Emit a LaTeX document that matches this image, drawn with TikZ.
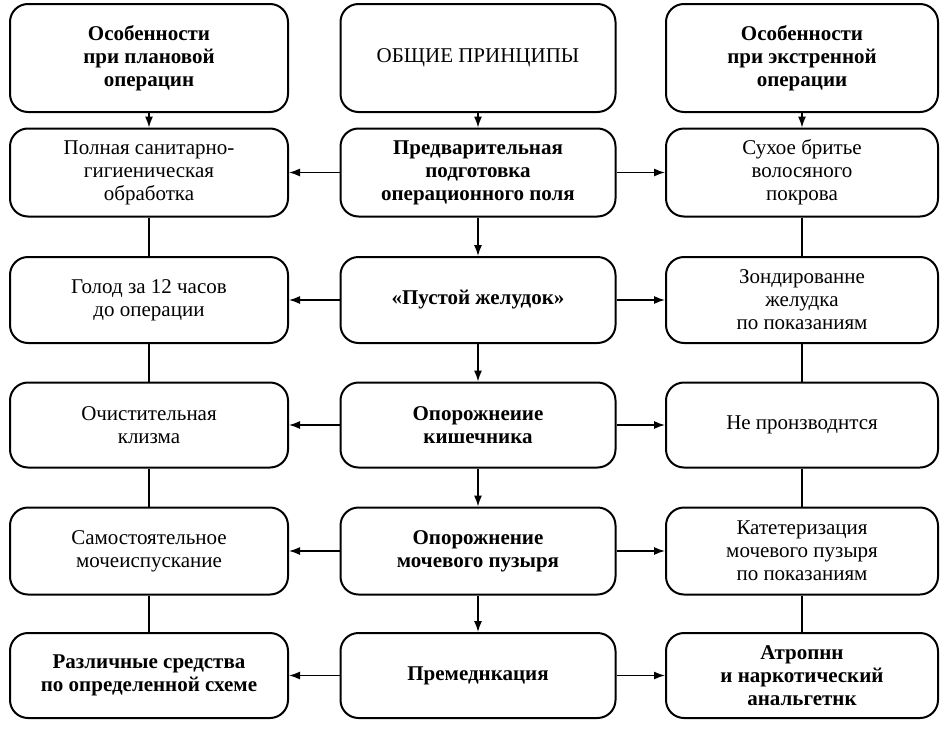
\documentclass[tikz,border=0pt]{standalone}
\usepackage{fontspec}
\setmainfont{Liberation Serif}
\usetikzlibrary{arrows.meta}
\begin{document}
\begin{tikzpicture}[x=1pt,y=-1pt,
  box/.style={draw,line width=2pt,rounded corners=18pt,minimum width=#1,align=center,font=\fontsize{21}{23}\selectfont,inner sep=2pt},
  bf/.style={font=\fontsize{21}{23}\selectfont\bfseries},
  arr/.style={line width=1.4pt,-{Latex[length=11pt,width=8pt]}},
  ln/.style={line width=1.4pt}]
\useasboundingbox (0,0) rectangle (948,731);
\def\rowA{58}\def\rowB{172.5}\def\rowC{300}\def\rowD{425}\def\rowE{551}\def\rowF{675.5}
\tikzset{L/.style={box=278pt,minimum height=#1},C/.style={box=275pt,minimum height=#1},R/.style={box=272pt,minimum height=#1}}
\node[L=108pt,bf] (l1) at (149,\rowA) {Особенности\\при плановой\\операцин};
\node[C=108pt] (c1) at (478,\rowA) {ОБЩИЕ ПРИНЦИПЫ};
\node[R=108pt,bf] (r1) at (802,\rowA) {Особенности\\при экстренной\\операции};
\node[L=88pt] (l2) at (149,\rowB) {Полная санитарно-\\гигиеническая\\обработка};
\node[C=88pt,bf] (c2) at (478,\rowB) {Предварительная\\подготовка\\операционного поля};
\node[R=88pt] (r2) at (802,\rowB) {Сухое бритье\\волосяного\\покрова};
\node[L=86pt] (l3) at (149,\rowC) {Голод за 12 часов\\до операции};
\node[C=86pt,bf] (c3) at (478,\rowC) {«Пустой желудок»};
\node[R=86pt] (r3) at (802,\rowC) {Зондированне\\желудка\\по показаниям};
\node[L=85pt] (l4) at (149,\rowD) {Очистительная\\клизма};
\node[C=85pt,bf] (c4) at (478,\rowD) {Опорожнеиие\\кишечника};
\node[R=85pt] (r4) at (802,\rowD) {Не пронзводнтся};
\node[L=87pt] (l5) at (149,\rowE) {Самостоятельное\\мочеиспускание};
\node[C=87pt,bf] (c5) at (478,\rowE) {Опорожнение\\мочевого пузыря};
\node[R=87pt] (r5) at (802,\rowE) {Катетеризация\\мочевого пузыря\\по показаниям};
\node[L=85pt,bf] (l6) at (149,\rowF) {Различные средства\\по определенной схеме};
\node[C=85pt,bf] (c6) at (478,\rowF) {Премеднкация};
\node[R=85pt,bf] (r6) at (802,\rowF) {Атропнн\\и наркотический\\анальгетнк};
\foreach \a/\b in {c1/c2,c2/c3,c3/c4,c4/c5,c5/c6,l1/l2,r1/r2} \draw[arr] (\a) -- (\b);
\foreach \a/\b in {l2/l3,l3/l4,l4/l5,l5/l6,r2/r3,r3/r4,r4/r5,r5/r6} \draw[ln] (\a) -- (\b);
\foreach \i in {2,...,6} {\draw[arr] (c\i) -- (l\i); \draw[arr] (c\i) -- (r\i);}
\end{tikzpicture}
\end{document}
